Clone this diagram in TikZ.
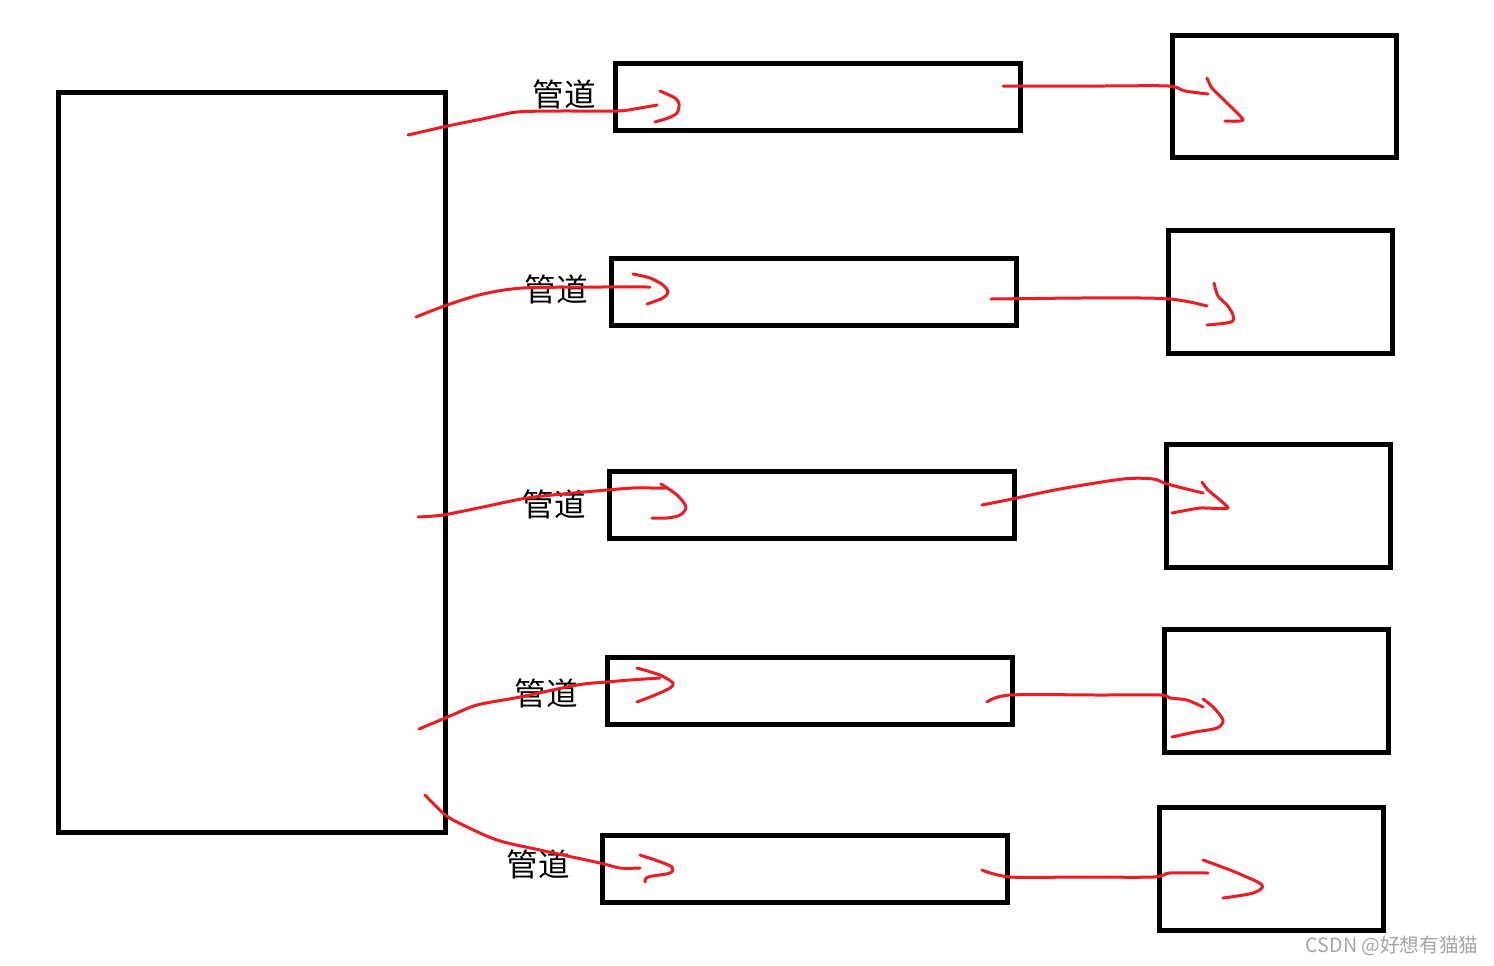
\documentclass[tikz,border=0pt]{standalone}
\usepackage{fontspec}
\newfontfamily\cjk{Noto Sans CJK SC}
\definecolor{pen}{RGB}{237,28,36}
\definecolor{mark}{RGB}{165,165,165}
\tikzset{
  box/.style={draw=black, line width=0.1cm, inner sep=0pt},
  bigbox/.style={box, minimum width=7.76cm, minimum height=14.82cm},
  midbox/.style={box, minimum width=8.12cm, minimum height=1.34cm},
  endbox/.style={box, minimum width=4.5cm, minimum height=2.46cm},
  pipe/.style={font=\cjk\fontsize{18}{20}\selectfont, inner sep=0pt},
  stroke/.style={draw=pen, line width=0.06cm, line cap=round, line join=round},
}
\begin{document}
\begin{tikzpicture}[x=0.02cm, y=-0.02cm]
\useasboundingbox (0,0) rectangle (1494,965);
% boxes
\node[bigbox] (big) at (252,462.5) {};
\node[midbox] (m1) at (818,96.5) {};
\node[midbox] (m2) at (814,291.5) {};
\node[midbox] (m3) at (812,505) {};
\node[midbox] (m4) at (810,691) {};
\node[midbox] (m5) at (805,869) {};
\node[endbox] (r1) at (1284.5,96.5) {};
\node[endbox] (r2) at (1280.5,291.5) {};
\node[endbox] (r3) at (1278.5,505.5) {};
\node[endbox] (r4) at (1276.5,691) {};
\node[endbox] (r5) at (1271.5,869) {};
% labels
\node[pipe] (l1) at (564,94) {管道};
\node[pipe] (l2) at (556,289) {管道};
\node[pipe] (l3) at (554,504) {管道};
\node[pipe] (l4) at (546,693) {管道};
\node[pipe] (l5) at (538,864) {管道};
% watermark
\node[font=\cjk\fontsize{11.2}{13}\selectfont, text=mark, anchor=east, inner sep=0pt] (wm) at (1479,946) {CSDN @好想有猫猫};
% red strokes, row 1
\draw[stroke] plot[smooth, tension=0.5] coordinates {(408,135) (443,127) (467,122) (487,118) (517,112) (560,111) (617,111) (640,108) (657,105)};
\draw[stroke] plot[smooth, tension=0.5] coordinates {(660,91) (675,98) (679,104) (677,113) (668,118) (655,122)};
\draw[stroke] plot[smooth, tension=0.5] coordinates {(1003,86) (1100,86) (1168,86) (1185,91) (1208,94)};
\draw[stroke] plot[smooth, tension=0.4] coordinates {(1207,78) (1212,88) (1227,103) (1243,120) (1225,121)};
% row 2
\draw[stroke] plot[smooth, tension=0.5] coordinates {(416,317) (447,305) (483,294) (523,288) (600,287) (650,287)};
\draw[stroke] plot[smooth, tension=0.5] coordinates {(633,274) (650,278) (663,285) (668,292) (663,298) (647,304)};
\draw[stroke] plot[smooth, tension=0.5] coordinates {(991,299) (1080,298) (1142,298) (1170,299) (1190,302) (1207,306)};
\draw[stroke] plot[smooth, tension=0.5] coordinates {(1214,283) (1218,296) (1227,305) (1233,315) (1231,322) (1207,325)};
% row 3
\draw[stroke] plot[smooth, tension=0.5] coordinates {(418,517) (443,515) (483,507) (527,498) (573,493) (607,490) (633,488) (653,488) (665,488)};
\draw[stroke] plot[smooth, tension=0.5] coordinates {(661,484) (677,495) (686,507) (680,515) (667,518) (652,518)};
\draw[stroke] plot[smooth, tension=0.5] coordinates {(982,505) (1012,499) (1060,489) (1123,479) (1153,479) (1167,484) (1203,493)};
\draw[stroke] plot[smooth, tension=0.3] coordinates {(1202,482) (1208,490) (1228,508) (1200,508) (1172,513)};
% row 4
\draw[stroke] plot[smooth, tension=0.5] coordinates {(419,729) (450,716) (477,705) (520,697) (577,685) (607,682) (630,680) (660,678)};
\draw[stroke] plot[smooth, tension=0.5] coordinates {(637,668) (660,675) (673,683) (670,688) (655,695) (637,702)};
\draw[stroke] plot[smooth, tension=0.5] coordinates {(987,702) (1010,695) (1100,695) (1160,695) (1170,698) (1187,700) (1203,707)};
\draw[stroke] plot[smooth, tension=0.5] coordinates {(1203,699) (1213,707) (1223,720) (1217,728) (1195,732) (1172,737)};
% row 5
\draw[stroke] plot[smooth, tension=0.5] coordinates {(425,795) (443,813) (457,822) (497,840) (540,850) (600,863) (620,868) (640,868)};
\draw[stroke] plot[smooth, tension=0.5] coordinates {(640,855) (658,861) (672,867) (670,873) (648,877) (645,882)};
\draw[stroke] plot[smooth, tension=0.5] coordinates {(982,870) (1010,877) (1080,877) (1153,877) (1170,873) (1208,873)};
\draw[stroke] plot[smooth, tension=0.5] coordinates {(1203,860) (1235,872) (1262,885) (1253,893) (1223,898)};
\end{tikzpicture}
\end{document}
